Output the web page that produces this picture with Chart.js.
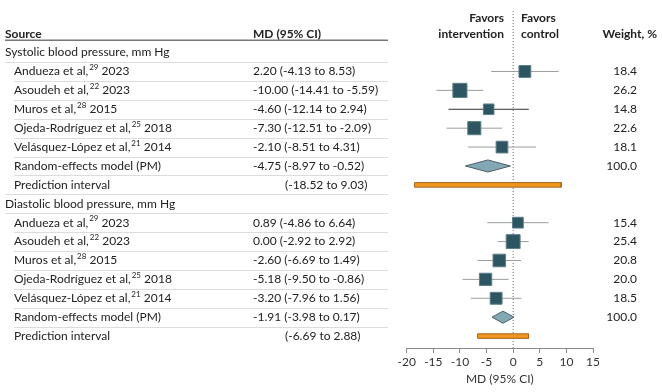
<!DOCTYPE html>
<html>
<head>
<meta charset="utf-8">
<script src="https://cdn.jsdelivr.net/npm/chart.js@4/dist/chart.umd.min.js"></script>
<style>
  html, body { margin: 0; padding: 0; background: #fff; }
  #wrap { width: 662px; height: 392px; }
</style>
</head>
<body>
<div id="wrap"><canvas id="forest"></canvas></div>
<script>
    // systolic blood pressure
    var sysNames = ['Andueza et al,', 'Asoudeh et al,', 'Muros et al,', 'Ojeda-Rodríguez et al,', 'Velásquez-López et al,'];
    var sysRefs = ['29', '22', '28', '25', '21'];
    var sysYears = ['2023', '2023', '2015', '2018', '2014'];
    var sysMd = [2.20, -10.00, -4.60, -7.30, -2.10];
    var sysLo = [-4.13, -14.41, -12.14, -12.51, -8.51];
    var sysHi = [8.53, -5.59, 2.94, -2.09, 4.31];
    var sysWeight = [18.4, 26.2, 14.8, 22.6, 18.1];
    var sysPooled = [-4.75, -8.97, -0.52];
    var sysPredict = [-18.52, 9.03];

    // diastolic blood pressure
    var diaNames = ['Andueza et al,', 'Asoudeh et al,', 'Muros et al,', 'Ojeda-Rodríguez et al,', 'Velásquez-López et al,'];
    var diaRefs = ['29', '22', '28', '25', '21'];
    var diaYears = ['2023', '2023', '2015', '2018', '2014'];
    var diaMd = [0.89, 0.00, -2.60, -5.18, -3.20];
    var diaLo = [-4.86, -2.92, -6.69, -9.50, -7.96];
    var diaHi = [6.64, 2.92, 1.49, -0.86, 1.56];
    var diaWeight = [15.4, 25.4, 20.8, 20.0, 18.5];
    var diaPooled = [-1.91, -3.98, 0.17];
    var diaPredict = [-6.69, 2.88];

    var groupLabels = ['Systolic blood pressure, mm Hg', 'Diastolic blood pressure, mm Hg'];
    var xTicks = [-20, -15, -10, -5, 0, 5, 10, 15];

    var FONT = 'Lato';
    var TEXT = '#222';

    var groups = [
        { label: groupLabels[0], start: 0, names: sysNames, refs: sysRefs, years: sysYears, md: sysMd, lo: sysLo, hi: sysHi, w: sysWeight, pooled: sysPooled, pi: sysPredict },
        { label: groupLabels[1], start: 8, names: diaNames, refs: diaRefs, years: diaYears, md: diaMd, lo: diaLo, hi: diaHi, w: diaWeight, pooled: diaPooled, pi: diaPredict }
    ];

    function fmt(v) { return v.toFixed(2); }

    var datasets = [];
    var squares = [];
    var squareW = [];
    groups.forEach(function (g, gi) {
        g.md.forEach(function (m, i) {
            var row = g.start + 1 + i;
            datasets.push({
                type: 'line',
                data: [{ x: g.lo[i], y: row }, { x: g.hi[i], y: row }],
                borderColor: (gi === 0 && i === 2) ? '#333' : '#9c9c9c',
                borderWidth: 1,
                pointRadius: 0,
                order: 5
            });
            squares.push({ x: m, y: row });
            squareW.push(g.w[i]);
        });
        var r = g.start + 6;
        var p = g.pooled;
        datasets.push({
            type: 'line',
            data: [{ x: p[1], y: r }, { x: p[0], y: r - 0.32 }, { x: p[2], y: r }, { x: p[0], y: r + 0.32 }, { x: p[1], y: r }],
            borderColor: '#4a5f68',
            backgroundColor: '#84a7b6',
            borderWidth: 1,
            fill: 'shape',
            pointRadius: 0,
            order: 1
        });
        var q = g.start + 7;
        datasets.push({
            type: 'line',
            data: [{ x: g.pi[0], y: q - 0.12 }, { x: g.pi[1], y: q - 0.12 }, { x: g.pi[1], y: q + 0.12 }, { x: g.pi[0], y: q + 0.12 }, { x: g.pi[0], y: q - 0.12 }],
            borderColor: '#a8661a',
            backgroundColor: '#f0961e',
            borderWidth: 1,
            fill: 'shape',
            pointRadius: 0,
            order: 1
        });
    });

    datasets.push({
        type: 'scatter',
        data: squares,
        pointStyle: 'rect',
        pointRadius: function (c) { return Math.sqrt(squareW[c.dataIndex]) * 1.95; },
        backgroundColor: '#2e5562',
        borderColor: '#5f7f8a',
        borderWidth: 1,
        order: 0
    });

    // dotted line of no effect
    datasets.push({
        type: 'line',
        data: [{ x: 0, y: -2.2 }, { x: 0, y: 15.63 }],
        borderColor: '#666',
        borderWidth: 1,
        borderDash: [1, 2],
        pointRadius: 0,
        order: 9
    });

    function drawSup(ctx, x, y, name, ref, year) {
        ctx.font = '12px ' + FONT;
        ctx.fillText(name, x, y);
        x += ctx.measureText(name).width + 1;
        ctx.font = '8px ' + FONT;
        ctx.fillText(ref, x, y - 4);
        x += ctx.measureText(ref).width;
        ctx.font = '12px ' + FONT;
        ctx.fillText(' ' + year, x, y);
    }

    var tablePlugin = {
        id: 'table',
        afterDraw: function (chart) {
            var ctx = chart.ctx;
            var ys = chart.scales.y;
            var py = function (r) { return Math.round(ys.getPixelForValue(r)) + 0.5; };
            ctx.save();

            // row rules
            ctx.strokeStyle = '#777';
            ctx.lineWidth = 1.5;
            ctx.beginPath();
            ctx.moveTo(5, ys.getPixelForValue(-0.65));
            ctx.lineTo(388, ys.getPixelForValue(-0.65));
            ctx.stroke();
            ctx.strokeStyle = '#dcdcdc';
            ctx.lineWidth = 1;
            for (var r = 0; r < 15; r++) {
                var x0 = (r === 0 || r === 7 || r === 8) ? 5 : 14;
                ctx.beginPath();
                ctx.moveTo(x0, py(r + 0.5));
                ctx.lineTo(388, py(r + 0.5));
                ctx.stroke();
            }

            ctx.fillStyle = TEXT;
            ctx.textBaseline = 'middle';

            // headers
            ctx.font = 'bold 12px ' + FONT;
            ctx.textAlign = 'left';
            ctx.fillText('Source', 5, ys.getPixelForValue(-1));
            ctx.fillText('MD (95% CI)', 253, ys.getPixelForValue(-1));
            ctx.fillText('Favors', 521, ys.getPixelForValue(-1.8));
            ctx.fillText('control', 521, ys.getPixelForValue(-1));
            ctx.textAlign = 'right';
            ctx.fillText('Favors', 504, ys.getPixelForValue(-1.8));
            ctx.fillText('intervention', 504, ys.getPixelForValue(-1));
            ctx.fillText('Weight, %', 657, ys.getPixelForValue(-1));

            groups.forEach(function (g) {
                var y0 = ys.getPixelForValue(g.start);
                ctx.textAlign = 'left';
                ctx.font = '12px ' + FONT;
                ctx.fillText(g.label, 5, y0);
                g.names.forEach(function (n, i) {
                    var y = ys.getPixelForValue(g.start + 1 + i);
                    ctx.textAlign = 'left';
                    drawSup(ctx, 14, y, n, g.refs[i], g.years[i]);
                    ctx.fillText(fmt(g.md[i]) + ' (' + fmt(g.lo[i]) + ' to ' + fmt(g.hi[i]) + ')', 253, y);
                    ctx.textAlign = 'right';
                    ctx.fillText(g.w[i].toFixed(1), 637, y);
                });
                var yr = ys.getPixelForValue(g.start + 6);
                var yp = ys.getPixelForValue(g.start + 7);
                ctx.textAlign = 'left';
                ctx.fillText('Random-effects model (PM)', 14, yr);
                ctx.fillText(fmt(g.pooled[0]) + ' (' + fmt(g.pooled[1]) + ' to ' + fmt(g.pooled[2]) + ')', 253, yr);
                ctx.fillText('Prediction interval', 14, yp);
                ctx.fillText('(' + fmt(g.pi[0]) + ' to ' + fmt(g.pi[1]) + ')', 285, yp);
                ctx.textAlign = 'right';
                ctx.fillText('100.0', 637, yr);
            });
            ctx.restore();
        }
    };

    var ctx = document.getElementById('forest').getContext('2d');
    var forest = new Chart(ctx, {
        type: 'line',
        data: { datasets: datasets },
        options: {
            responsive: true,
            maintainAspectRatio: false,
            animation: false,
            layout: { padding: { left: 406.7, right: 69, top: 10, bottom: 6 } },
            plugins: { legend: { display: false }, tooltip: { enabled: false } },
            scales: {
                x: {
                    type: 'linear',
                    min: -20,
                    max: 15,
                    afterBuildTicks: function (s) { s.ticks = xTicks.map(function (v) { return { value: v }; }); },
                    afterFit: function (s) { s.height = 38; },
                    grid: { drawOnChartArea: false, drawTicks: true, tickLength: 5, color: '#8a8a8a' },
                    border: { display: true, color: '#8a8a8a' },
                    ticks: { color: '#333', font: { family: FONT, size: 12 }, padding: 2, maxRotation: 0 },
                    title: { display: true, text: 'MD (95% CI)', color: '#333', font: { family: FONT, size: 12 }, padding: { top: 1, bottom: 0 } }
                },
                y: {
                    type: 'linear',
                    display: false,
                    reverse: true,
                    min: -2.2,
                    max: 15.63
                }
            }
        },
        plugins: [tablePlugin]
    });
</script>
</body>
</html>
